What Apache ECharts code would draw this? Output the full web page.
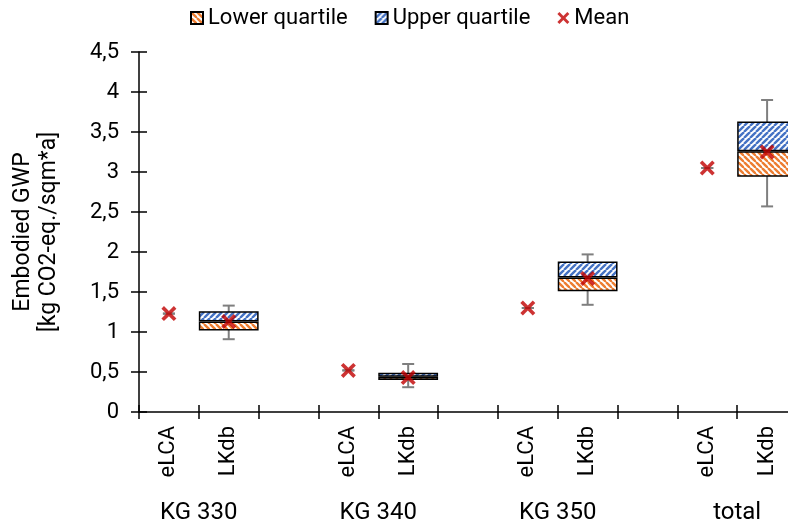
<!DOCTYPE html>
<html>
<head>
<meta charset="utf-8">
<script src="https://cdn.jsdelivr.net/npm/echarts@6/dist/echarts.min.js"></script>
<style>html,body{margin:0;padding:0;background:#fff;}#c{width:788px;height:529px;}</style>
</head>
<body>
<div id="c"></div>
<script>
// ---- data ----
const categories = ['eLCA','LKdb','','eLCA','LKdb','','eLCA','LKdb','','eLCA','LKdb'];
const groupLabels = ['KG 330','KG 340','KG 350','total'];
const groupPositions = [1, 4, 7, 10];
const q1 =         [null, 1.02, null, null, 0.40, null, null, 1.51, null, null, 2.94];
const median =     [null, 1.13, null, null, 0.44, null, null, 1.68, null, null, 3.26];
const q3 =         [null, 1.26, null, null, 0.49, null, null, 1.88, null, null, 3.63];
const whiskerMin = [1.23, 0.91, null, 0.52, 0.31, null, 1.30, 1.34, null, 3.05, 2.57];
const whiskerMax = [1.23, 1.33, null, 0.52, 0.60, null, 1.30, 1.97, null, 3.05, 3.90];
const mean =       [1.23, 1.13, null, 0.52, 0.43, null, 1.30, 1.67, null, 3.05, 3.25];
const yTicks = { min: 0, max: 4.5, interval: 0.5 };

// ---- patterns ----
function hatch(color, dir) {
  const s = 6;
  const c = document.createElement('canvas');
  c.width = s; c.height = s;
  const g = c.getContext('2d');
  g.fillStyle = '#fff'; g.fillRect(0, 0, s, s);
  g.strokeStyle = color; g.lineWidth = 2.4;
  for (let k = -1; k <= 1; k++) {
    g.beginPath();
    if (dir === '/') { g.moveTo(k * s, s); g.lineTo(k * s + s, 0); }
    else { g.moveTo(k * s, 0); g.lineTo(k * s + s, s); }
    g.stroke();
  }
  return { image: c, repeat: 'repeat' };
}
const orangePat = hatch('#ed7d31', '\\');
const bluePat = hatch('#4472c4', '/');

const lowerPart = q1.map((v, i) => v == null ? null : +(median[i] - v).toFixed(3));
const upperPart = q3.map((v, i) => v == null ? null : +(v - median[i]).toFixed(3));
const whiskerData = [];
whiskerMin.forEach((v, i) => { if (v != null) whiskerData.push([i, v, whiskerMax[i]]); });
const meanData = mean.map((v, i) => v == null ? null : [i, v]).filter(d => d);

const FONT = 'Roboto';
const xMark = 'path://M1.7,0 L5,3.3 L8.3,0 L10,1.7 L6.7,5 L10,8.3 L8.3,10 L5,6.7 L1.7,10 L0,8.3 L3.3,5 L0,1.7 Z';

const chart = echarts.init(document.getElementById('c'), null, { renderer: 'canvas' });
chart.setOption({
  animation: false,
  textStyle: { fontFamily: FONT },
  legend: {
    top: 2, left: 185,
    itemWidth: 12, itemHeight: 12, itemGap: 27,
    textStyle: { fontFamily: FONT, fontSize: 22, color: '#000' },
    data: [
      { name: 'Lower quartile', icon: 'rect' },
      { name: 'Upper quartile', icon: 'rect' },
      { name: 'Mean', icon: xMark }
    ]
  },
  grid: { left: 139, top: 52, width: 658, height: 360, outerBoundsMode: 'none', containLabel: false },
  xAxis: [
    {
      type: 'category', data: categories, position: 'bottom', offset: 0,
      axisLine: { lineStyle: { color: '#000', width: 1.5 } },
      axisTick: { show: true, length: 7, lineStyle: { color: '#000', width: 1.5 } },
      axisLabel: { rotate: 90, fontSize: 22, color: '#000', margin: 14, fontFamily: FONT, interval: 0 },
      splitLine: { show: false }
    },
    {
      type: 'category', data: categories, position: 'bottom', offset: 0,
      axisLine: { show: false },
      axisTick: { show: true, inside: true, length: 7, lineStyle: { color: '#000', width: 1.5 } },
      axisLabel: { show: false },
      splitLine: { show: false }
    },
    {
      type: 'value', min: 0, max: 11, position: 'bottom', offset: 0,
      axisLine: { show: false }, axisTick: { show: false }, splitLine: { show: false },
      axisLabel: {
        customValues: groupPositions,
        formatter: v => groupLabels[groupPositions.indexOf(v)] || '',
        fontSize: 24, color: '#000', margin: 89, fontFamily: FONT
      }
    }
  ],
  yAxis: [
    {
      type: 'value', min: yTicks.min, max: yTicks.max, interval: yTicks.interval,
      name: 'Embodied GWP\n[kg CO2-eq./sqm*a]',
      nameLocation: 'middle', nameRotate: 90, nameGap: 77,
      nameTextStyle: { fontSize: 23, color: '#000', lineHeight: 26, fontFamily: FONT },
      axisLine: { show: true, lineStyle: { color: '#000', width: 1.5 } },
      axisTick: { show: true, length: 8, lineStyle: { color: '#000', width: 1.5 } },
      axisLabel: { fontSize: 22, color: '#000', margin: 20, fontFamily: FONT,
        formatter: v => String(v).replace('.', ',') },
      splitLine: { show: false }
    },
    {
      type: 'value', min: yTicks.min, max: yTicks.max, interval: yTicks.interval, position: 'left', offset: 0,
      axisLine: { show: false },
      axisTick: { show: true, inside: true, length: 8, lineStyle: { color: '#000', width: 1.5 } },
      axisLabel: { show: false },
      splitLine: { show: false }
    }
  ],
  series: [
    {
      type: 'custom', name: 'whisker', z: 1, silent: true,
      renderItem: function (params, api) {
        const x = api.value(0), lo = api.value(1), hi = api.value(2);
        const pLo = api.coord([x, lo]);
        const pHi = api.coord([x, hi]);
        const h = 6;
        const st = { stroke: '#7f7f7f', lineWidth: 2 };
        return {
          type: 'group', children: [
            { type: 'line', shape: { x1: pLo[0], y1: pLo[1], x2: pHi[0], y2: pHi[1] }, style: st },
            { type: 'line', shape: { x1: pLo[0] - h, y1: pLo[1], x2: pLo[0] + h, y2: pLo[1] }, style: st },
            { type: 'line', shape: { x1: pHi[0] - h, y1: pHi[1], x2: pHi[0] + h, y2: pHi[1] }, style: st }
          ]
        };
      },
      encode: { x: 0, y: [1, 2] },
      data: whiskerData
    },
    {
      type: 'bar', name: 'base', stack: 'box', silent: true, z: 2,
      barCategoryGap: '0%',
      itemStyle: { color: 'rgba(0,0,0,0)', borderWidth: 0 },
      data: q1
    },
    {
      type: 'bar', name: 'Lower quartile', stack: 'box', z: 2,
      itemStyle: { color: orangePat, borderColor: '#000', borderWidth: 1.5 },
      data: lowerPart
    },
    {
      type: 'bar', name: 'Upper quartile', stack: 'box', z: 2,
      itemStyle: { color: bluePat, borderColor: '#000', borderWidth: 1.5 },
      data: upperPart
    },
    {
      type: 'scatter', name: 'Mean', z: 5,
      symbol: xMark, symbolSize: 15,
      itemStyle: { color: '#c00000' },
      data: meanData
    }
  ]
});
</script>
</body>
</html>
